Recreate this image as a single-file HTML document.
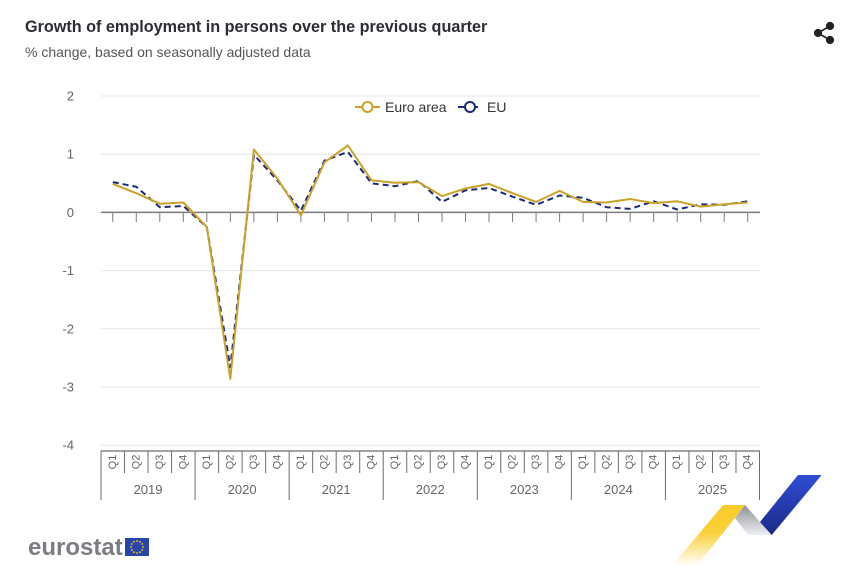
<!DOCTYPE html>
<html><head><meta charset="utf-8">
<style>
html,body{margin:0;padding:0;background:#fff;}
body{width:861px;height:570px;overflow:hidden;font-family:"Liberation Sans",Arial,sans-serif;}
svg text{font-family:"Liberation Sans",Arial,sans-serif;}
</style></head>
<body>
<svg width="861" height="570" viewBox="0 0 861 570" xmlns="http://www.w3.org/2000/svg">
<defs>
<linearGradient id="gy" x1="0" y1="0" x2="0" y2="1">
<stop offset="0" stop-color="#f8cc2a"/><stop offset="0.45" stop-color="#f9d03a"/><stop offset="1" stop-color="#ffffff"/>
</linearGradient>
<linearGradient id="gg" x1="0" y1="0" x2="0" y2="1">
<stop offset="0" stop-color="#8e9098"/><stop offset="1" stop-color="#eef0f5"/>
</linearGradient>
<linearGradient id="gb" x1="0" y1="0" x2="0" y2="1">
<stop offset="0" stop-color="#2f4cd4"/><stop offset="1" stop-color="#1c2a86"/>
</linearGradient>
</defs>

<text x="25" y="32" font-size="16.2" font-weight="bold" fill="#2b2d33">Growth of employment in persons over the previous quarter</text>
<text x="25" y="57" font-size="14" fill="#555">% change, based on seasonally adjusted data</text>

<!-- share icon -->
<g fill="#222" stroke="#222" stroke-width="1.6">
<line x1="830" y1="26" x2="818" y2="33"/><line x1="818" y1="33" x2="830" y2="40"/>
<circle cx="830" cy="26" r="3.3"/><circle cx="818" cy="33" r="3.3"/><circle cx="830" cy="40" r="3.3"/>
</g>

<!-- gridlines -->
<g stroke="#e3e6ef" stroke-width="1">
<line x1="101" y1="96" x2="760" y2="96"/>
<line x1="101" y1="154.2" x2="760" y2="154.2"/>
<line x1="101" y1="270.6" x2="760" y2="270.6"/>
<line x1="101" y1="328.8" x2="760" y2="328.8"/>
<line x1="101" y1="387" x2="760" y2="387"/>
<line x1="101" y1="445.2" x2="760" y2="445.2"/>
</g>
<g font-size="13" fill="#666" text-anchor="end">
<text x="74" y="100.5">2</text>
<text x="74" y="158.7">1</text>
<text x="74" y="216.9">0</text>
<text x="74" y="275.1">-1</text>
<text x="74" y="333.3">-2</text>
<text x="74" y="391.5">-3</text>
<text x="74" y="449.7">-4</text>
</g>

<!-- zero line and ticks -->
<line x1="101" y1="212.4" x2="760" y2="212.4" stroke="#7a7a80" stroke-width="1.5"/>
<g stroke="#7a7a80" stroke-width="1" id="ticks"></g>

<!-- bottom axis -->
<line x1="101" y1="451" x2="760" y2="451" stroke="#6c6c72" stroke-width="1.2"/>
<g id="qsep" stroke="#6c6c72" stroke-width="1"></g>
<g id="qlab" font-size="11" fill="#666"></g>
<g id="ylab" font-size="13" fill="#666" text-anchor="middle"></g>

<!-- series -->
<polyline id="eu" fill="none" stroke="#1b2a78" stroke-width="2" stroke-dasharray="6,4" stroke-linejoin="round"/>
<polyline id="ea" fill="none" stroke="#c9a22a" stroke-width="2" stroke-linejoin="round"/>

<!-- legend -->
<g>
<line x1="355" y1="107" x2="380" y2="107" stroke="#c9a22a" stroke-width="2"/>
<circle cx="367.5" cy="107" r="5" fill="#fff" stroke="#c9a22a" stroke-width="2"/>
<text x="385" y="112" font-size="14" fill="#333">Euro area</text>
<line x1="458" y1="107" x2="466" y2="107" stroke="#1b2a78" stroke-width="2"/>
<line x1="476" y1="107" x2="478" y2="107" stroke="#1b2a78" stroke-width="2"/>
<circle cx="470" cy="107" r="5" fill="#fff" stroke="#1b2a78" stroke-width="2"/>
<text x="487" y="112" font-size="14" fill="#333">EU</text>
</g>

<!-- eurostat logo -->
<text x="28" y="555" font-size="24" font-weight="bold" fill="#7b7d82">eurostat</text>
<rect x="125" y="538" width="24" height="18" fill="#2a44a8"/>
<g id="stars" fill="#f5d020"></g>

<!-- ribbon -->
<polygon points="723,505 745,505 697,566 672,566" fill="url(#gy)"/>
<polygon points="745,505 760,522 771.7,535 748,535 735,518" fill="url(#gg)"/>
<polygon points="760,522 798,475 821.7,475 771.7,535" fill="url(#gb)"/>

<script>
(function(){
var ns="http://www.w3.org/2000/svg";
var x0=101,cw=(759.5-101)/28;
function cx(i){return x0+cw*(i+0.5);}
function Y(v){return 212.4-v*58.2;}
var ea=[0.49,0.33,0.15,0.17,-0.25,-2.86,1.08,0.58,-0.05,0.86,1.15,0.55,0.51,0.52,0.28,0.41,0.49,0.33,0.18,0.37,0.18,0.17,0.23,0.16,0.19,0.10,0.14,0.17];
var eu=[0.52,0.44,0.09,0.11,-0.25,-2.66,0.99,0.55,0.03,0.89,1.04,0.50,0.45,0.54,0.18,0.38,0.42,0.27,0.13,0.29,0.25,0.09,0.06,0.19,0.05,0.14,0.13,0.19];
function pts(a){return a.map(function(v,i){return cx(i).toFixed(1)+","+Y(v).toFixed(1);}).join(" ");}
document.getElementById("ea").setAttribute("points",pts(ea));
document.getElementById("eu").setAttribute("points",pts(eu));
var t=document.getElementById("ticks"),qs=document.getElementById("qsep"),ql=document.getElementById("qlab"),yl=document.getElementById("ylab");
function el(n,a,p){var e=document.createElementNS(ns,n);for(var k in a)e.setAttribute(k,a[k]);p.appendChild(e);return e;}
for(var i=0;i<28;i++){
 var x=cx(i);
 el("line",{x1:x,y1:212.4,x2:x,y2:222},t);
 var tx=el("text",{x:x,y:462,"text-anchor":"middle","dominant-baseline":"central",transform:"rotate(-90 "+x+" 462)"},ql);
 tx.textContent="Q"+(i%4+1);
}
for(var i=0;i<=28;i++){
 var x=x0+cw*i;
 el("line",{x1:x,y1:451,x2:x,y2:(i%4==0)?500:473},qs);
}
for(var k=0;k<7;k++){
 var tx=el("text",{x:x0+cw*4*(k+0.5),y:494},yl);
 tx.textContent=String(2019+k);
}
var s=document.getElementById("stars");
for(var j=0;j<12;j++){
 var a=j*Math.PI/6;
 el("circle",{cx:137+6*Math.cos(a),cy:547+6*Math.sin(a),r:0.9},s);
}
})();
</script>
</svg>
</body></html>
